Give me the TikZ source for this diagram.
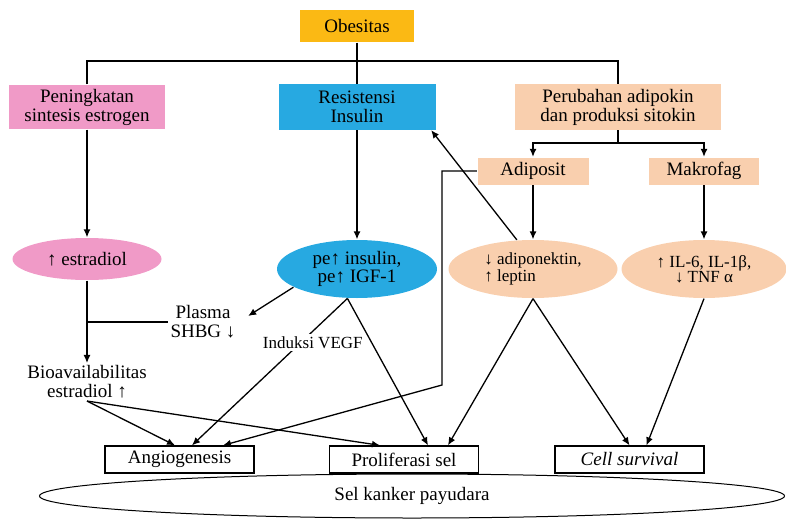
\documentclass[tikz,border=0pt]{standalone}
\usepackage{fontspec}
\setmainfont{Liberation Serif}
\usetikzlibrary{shapes.geometric,arrows.meta,calc}
\definecolor{obesgold}{HTML}{FBB914}
\definecolor{estpink}{HTML}{F09AC7}
\definecolor{insblue}{HTML}{27A9E1}
\definecolor{adipeach}{HTML}{F9CFAE}
\tikzset{
  fillbox/.style={rectangle, inner sep=0pt, align=center, font=\fontsize{9.5}{9.5}\selectfont},
  outbox/.style={rectangle, draw, fill=white, inner sep=0pt, minimum width=74.5pt, minimum height=13.5pt, font=\fontsize{9.5}{9.5}\selectfont},
  oval/.style={ellipse, inner sep=0pt, align=center, font=\fontsize{9.5}{9}\selectfont},
  smalloval/.style={oval, font=\fontsize{8.5}{7.5}\selectfont},
  plain/.style={align=center, inner sep=1pt, font=\fontsize{9.5}{9.5}\selectfont},
  arr/.style={-{Latex[length=4pt,width=3.5pt]}}
}
\begin{document}
\begin{tikzpicture}[x=0.5pt, y=-0.5pt, line width=0.65pt]
\useasboundingbox (0,0) rectangle (786,519);
\node[ellipse, draw, line width=0.5pt, inner sep=0pt, minimum width=372.5pt, minimum height=22pt, font=\fontsize{9.5}{9.5}\selectfont] (kanker) at (412,496){Sel kanker payudara};
\node[fillbox, fill=obesgold, minimum width=57pt, minimum height=16pt] (obes) at (357,26){Obesitas};
\node[fillbox, fill=estpink, minimum width=78pt, minimum height=22pt] (estro) at (87,107){Peningkatan\\sintesis estrogen};
\node[fillbox, fill=insblue, minimum width=78.5pt, minimum height=22.5pt] (resist) at (357,107){Resistensi\\Insulin};
\node[fillbox, fill=adipeach, minimum width=103pt, minimum height=22.5pt] (perub) at (618,107){Perubahan adipokin\\dan produksi sitokin};
\node[fillbox, fill=adipeach, minimum width=55.5pt, minimum height=13.5pt] (adipo) at (533,171){Adiposit};
\node[fillbox, fill=adipeach, minimum width=55pt, minimum height=13.5pt] (makro) at (704,171){Makrofag};
\node[oval, fill=estpink, minimum width=74.5pt, minimum height=21pt] (estra) at (87,259){↑ estradiol};
\node[oval, fill=insblue, minimum width=80pt, minimum height=29pt] (insul) at (357,269){pe↑ insulin,\\pe↑ IGF-1};
\node[smalloval, fill=adipeach, minimum width=84.5pt, minimum height=29pt, align=left] (adipok) at (533,269){↓ adiponektin,\\↑ leptin};
\node[smalloval, fill=adipeach, minimum width=82.5pt, minimum height=29pt] (sitok) at (704,269){↑ IL-6, IL-1β,\\↓ TNF α};
\node[plain] (shbg) at (203,322){Plasma\\SHBG ↓};
\node[plain] (bioav) at (87,382){Bioavailabilitas\\estradiol ↑};
\node[outbox] (angio) at (179.5,459.5){Angiogenesis};
\node[outbox] (prolif) at (404,459.5){Proliferasi sel};
\node[outbox] (surv) at (629.5,459.5){\textit{Cell survival}};
\coordinate (split) at (357,61);
\coordinate (fork) at (618,143);
\coordinate (turn) at (442,385);
\draw[](obes.south) -- (resist.north);
\draw[](estro.north) |- (split) -| (perub.north);
\draw[](perub.south) -- (fork);
\draw[arr](fork) -| (adipo.north);
\draw[arr](fork) -| (makro.north);
\draw[arr](estro.south) -- (estra.north);
\draw[arr](resist.south) -- (insul.north);
\draw[arr](adipo.south) -- (adipok.north);
\draw[arr](makro.south) -- (sitok.north);
\draw[arr](adipok.119) -- ($(resist.south east)+(-5,0)$);
\draw[arr](estra.south) -- (bioav.north);
\draw[](shbg.west) -- (shbg.west -| estra.south);
\draw[arr](insul.196) -- ($(shbg.east)+(10,-6)$);
\draw[arr](adipo.west) -| (turn) -- ($(angio.north)+(43.5,0)$);
\draw[arr](bioav.south) -- ($(angio.north)+(-4.5,0)$);
\draw[arr](bioav.south) -- ($(prolif.north)+(-24,0)$);
\draw[arr](insul.252) -- node[pos=0.3, fill=white, inner sep=1pt, xshift=6pt, font=\fontsize{8.5}{8.5}\selectfont] (vegf){Induksi VEGF} ($(angio.north)+(12.5,0)$);
\draw[arr](insul.252) -- ($(prolif.north)+(24,0)$);
\draw[arr](adipok.south) -- ($(prolif.north)+(44,0)$);
\draw[arr](adipok.south) -- (surv.north);
\draw[arr](sitok.south) -- ($(surv.north)+(17,0)$);

\end{tikzpicture}
\end{document}
